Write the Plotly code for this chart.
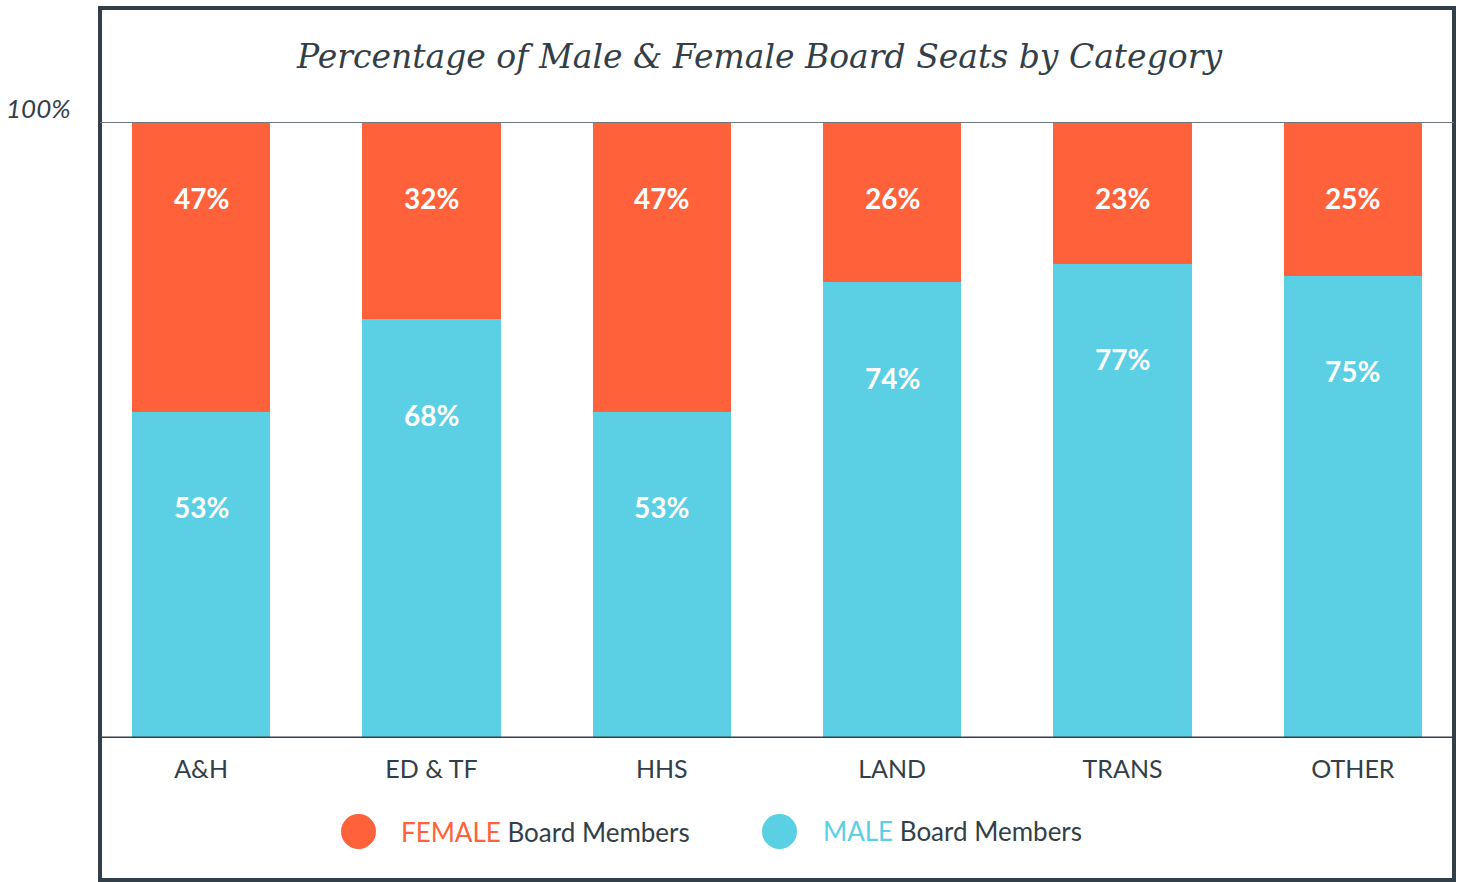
import plotly.graph_objects as go

categories = ["A&H", "ED & TF", "HHS", "LAND", "TRANS", "OTHER"]
male_pct = [53, 68, 53, 74, 77, 75]
female_pct = [47, 32, 47, 26, 23, 25]

ORANGE = "#FF623B"
CYAN = "#5BCFE3"
DARK = "#333F48"

W, H = 1461, 882
L, R, T, B = 102, 9, 122, 144
PW, PH = W - L - R, H - T - B


def px(x):
    return (x - L) / PW


def py(y):
    return (H - B - y) / PH


fig = go.Figure()
fig.add_bar(x=categories, y=male_pct, name="MALE", marker=dict(color=CYAN, line=dict(width=0)),
            width=0.6, hoverinfo="skip")
fig.add_bar(x=categories, y=female_pct, name="FEMALE", marker=dict(color=ORANGE, line=dict(width=0)),
            width=0.6, hoverinfo="skip")

ann = []
lab_font = dict(family="Lato", size=28, color="white", weight="bold")
for c, m, f in zip(categories, male_pct, female_pct):
    ann.append(dict(x=c, y=m + f - 12.3, text=f"<b>{f}%</b>", showarrow=False, font=lab_font,
                    xref="x", yref="y", yanchor="middle"))
    ann.append(dict(x=c, y=m - 15.5, text=f"<b>{m}%</b>", showarrow=False, font=lab_font,
                    xref="x", yref="y", yanchor="middle"))

ann.append(dict(x=px(759), y=py(57), xref="paper", yref="paper", showarrow=False,
                text="<i>Percentage of Male &amp; Female Board Seats by Category</i>",
                font=dict(family="DejaVu Serif", size=33, color=DARK),
                xanchor="center", yanchor="middle"))
ann.append(dict(x=px(73), y=py(108), xref="paper", yref="paper", showarrow=False,
                text="<i>100%</i>", font=dict(family="Lato", size=26, color=DARK),
                xanchor="right", yanchor="middle"))
ann.append(dict(x=px(399), y=py(832), xref="paper", yref="paper", showarrow=False,
                text=f"<span style='color:{ORANGE}'>FEMALE</span> Board Members",
                font=dict(family="Lato", size=26, color=DARK), xanchor="left", yanchor="middle"))
ann.append(dict(x=px(821), y=py(831), xref="paper", yref="paper", showarrow=False,
                text=f"<span style='color:{CYAN}'>MALE</span> Board Members",
                font=dict(family="Lato", size=26, color=DARK), xanchor="left", yanchor="middle"))

shapes = [
    dict(type="rect", xref="paper", yref="paper", x0=px(100), x1=px(1454), y0=py(880), y1=py(8),
         line=dict(color=DARK, width=4), layer="above"),
    dict(type="line", xref="paper", yref="y", x0=px(100), x1=px(1454), y0=100, y1=100,
         line=dict(color="#6F777D", width=2), layer="above"),
    dict(type="line", xref="paper", yref="y", x0=px(100), x1=px(1454), y0=0, y1=0,
         line=dict(color=DARK, width=3), layer="above"),
    dict(type="circle", xref="paper", yref="paper", x0=px(341), x1=px(376), y0=py(849), y1=py(814),
         fillcolor=ORANGE, line=dict(width=0)),
    dict(type="circle", xref="paper", yref="paper", x0=px(762), x1=px(797), y0=py(849), y1=py(814),
         fillcolor=CYAN, line=dict(width=0)),
]

fig.update_layout(
    width=W, height=H, barmode="stack", showlegend=False,
    margin=dict(l=L, r=R, t=T, b=B, pad=0),
    paper_bgcolor="white", plot_bgcolor="white",
    annotations=ann, shapes=shapes,
    xaxis=dict(range=[-0.43, 5.43], showgrid=False, zeroline=False, showline=False,
               ticks="", tickfont=dict(family="Lato", size=25, color=DARK), ticklabelstandoff=14,
               fixedrange=True),
    yaxis=dict(range=[0, 100], showgrid=False, zeroline=False, showline=False,
               showticklabels=False, ticks="", fixedrange=True),
)

fig.write_html("out.html", config={"displayModeBar": False},
               post_script="document.body.style.margin='0';document.body.style.overflow='hidden';")
